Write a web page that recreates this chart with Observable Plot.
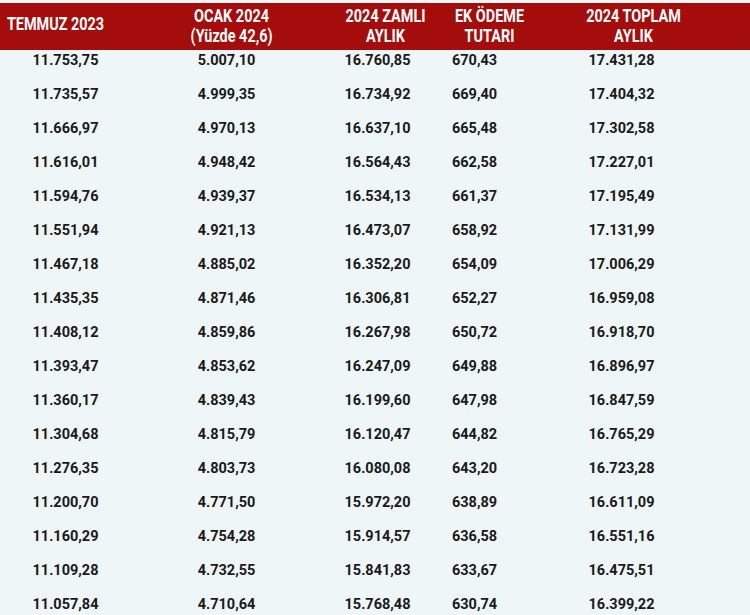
<!DOCTYPE html>
<html><head><meta charset="utf-8">
<script src="https://cdn.jsdelivr.net/npm/d3@7"></script>
<script src="https://cdn.jsdelivr.net/npm/@observablehq/plot@0.6"></script>
<style>html,body{margin:0;padding:0;background:#eef6f8;} #chart svg{display:block}</style>
</head><body><div id="chart"></div>
<script>
const columnKeys = ["temmuz2023", "ocak2024", "zamli2024", "ekOdeme", "toplam2024"];
const headerLabels = ["TEMMUZ 2023", "OCAK 2024\n(Yüzde 42,6)", "2024 ZAMLI\nAYLIK", "EK ÖDEME\nTUTARI", "2024 TOPLAM\nAYLIK"];
const temmuz2023 = [11753.75, 11735.57, 11666.97, 11616.01, 11594.76, 11551.94, 11467.18, 11435.35, 11408.12, 11393.47, 11360.17, 11304.68, 11276.35, 11200.70, 11160.29, 11109.28, 11057.84];
const ocak2024 = [5007.10, 4999.35, 4970.13, 4948.42, 4939.37, 4921.13, 4885.02, 4871.46, 4859.86, 4853.62, 4839.43, 4815.79, 4803.73, 4771.50, 4754.28, 4732.55, 4710.64];
const zamli2024 = [16760.85, 16734.92, 16637.10, 16564.43, 16534.13, 16473.07, 16352.20, 16306.81, 16267.98, 16247.09, 16199.60, 16120.47, 16080.08, 15972.20, 15914.57, 15841.83, 15768.48];
const ekOdeme = [670.43, 669.40, 665.48, 662.58, 661.37, 658.92, 654.09, 652.27, 650.72, 649.88, 647.98, 644.82, 643.20, 638.89, 636.58, 633.67, 630.74];
const toplam2024 = [17431.28, 17404.32, 17302.58, 17227.01, 17195.49, 17131.99, 17006.29, 16959.08, 16918.70, 16896.97, 16847.59, 16765.29, 16723.28, 16611.09, 16551.16, 16475.51, 16399.22];

const tr = d3.formatLocale({decimal: ",", thousands: ".", grouping: [3], currency: ["", ""]});
const fmt = tr.format(",.2f");
const series = [temmuz2023, ocak2024, zamli2024, ekOdeme, toplam2024];
const rowIds = temmuz2023.map((_, i) => i);
const valueShift = [0, 22, 34, -8, 0];
const headerShift = [-10, 27, 42, 7, 12];
const red = "#a50c0c";

const marks = [Plot.ruleY(["header"], {stroke: red, strokeWidth: 47})];
series.forEach((vals, c) => {
  marks.push(Plot.text(vals, {
    x: () => columnKeys[c], y: (d, i) => i, text: d => fmt(d),
    dx: valueShift[c], fontSize: 14.5, fontWeight: 700, fill: "#1a1a1a",
    fontFamily: "Roboto, 'Noto Sans', sans-serif"
  }));
  marks.push(Plot.text([headerLabels[c]], {
    x: () => columnKeys[c], y: () => "header", text: d => d,
    dx: headerShift[c], dy: c === 0 ? -3 : -1, lineHeight: 1.12,
    fontSize: 18.5, fontWeight: "bold", fill: "white",
    fontFamily: "Roboto, sans-serif", className: "hdr"
  }));
});

const chart = Plot.plot({
  width: 750, height: 615,
  margin: 0,
  x: {type: "point", domain: columnKeys, range: [65, 621], padding: 0, axis: null},
  y: {type: "point", domain: ["header", ...rowIds], range: [24, 606], padding: 0, axis: null},
  style: {background: "#eef6f8"},
  marks
});
// condense header lettering horizontally (narrow bold face in the reference)
d3.select(chart).selectAll("g.hdr text").each(function() {
  const t = this.getAttribute("transform") || "";
  this.setAttribute("transform", t + " scale(0.78,1)");
});
document.getElementById("chart").append(chart);
</script>
</body></html>
